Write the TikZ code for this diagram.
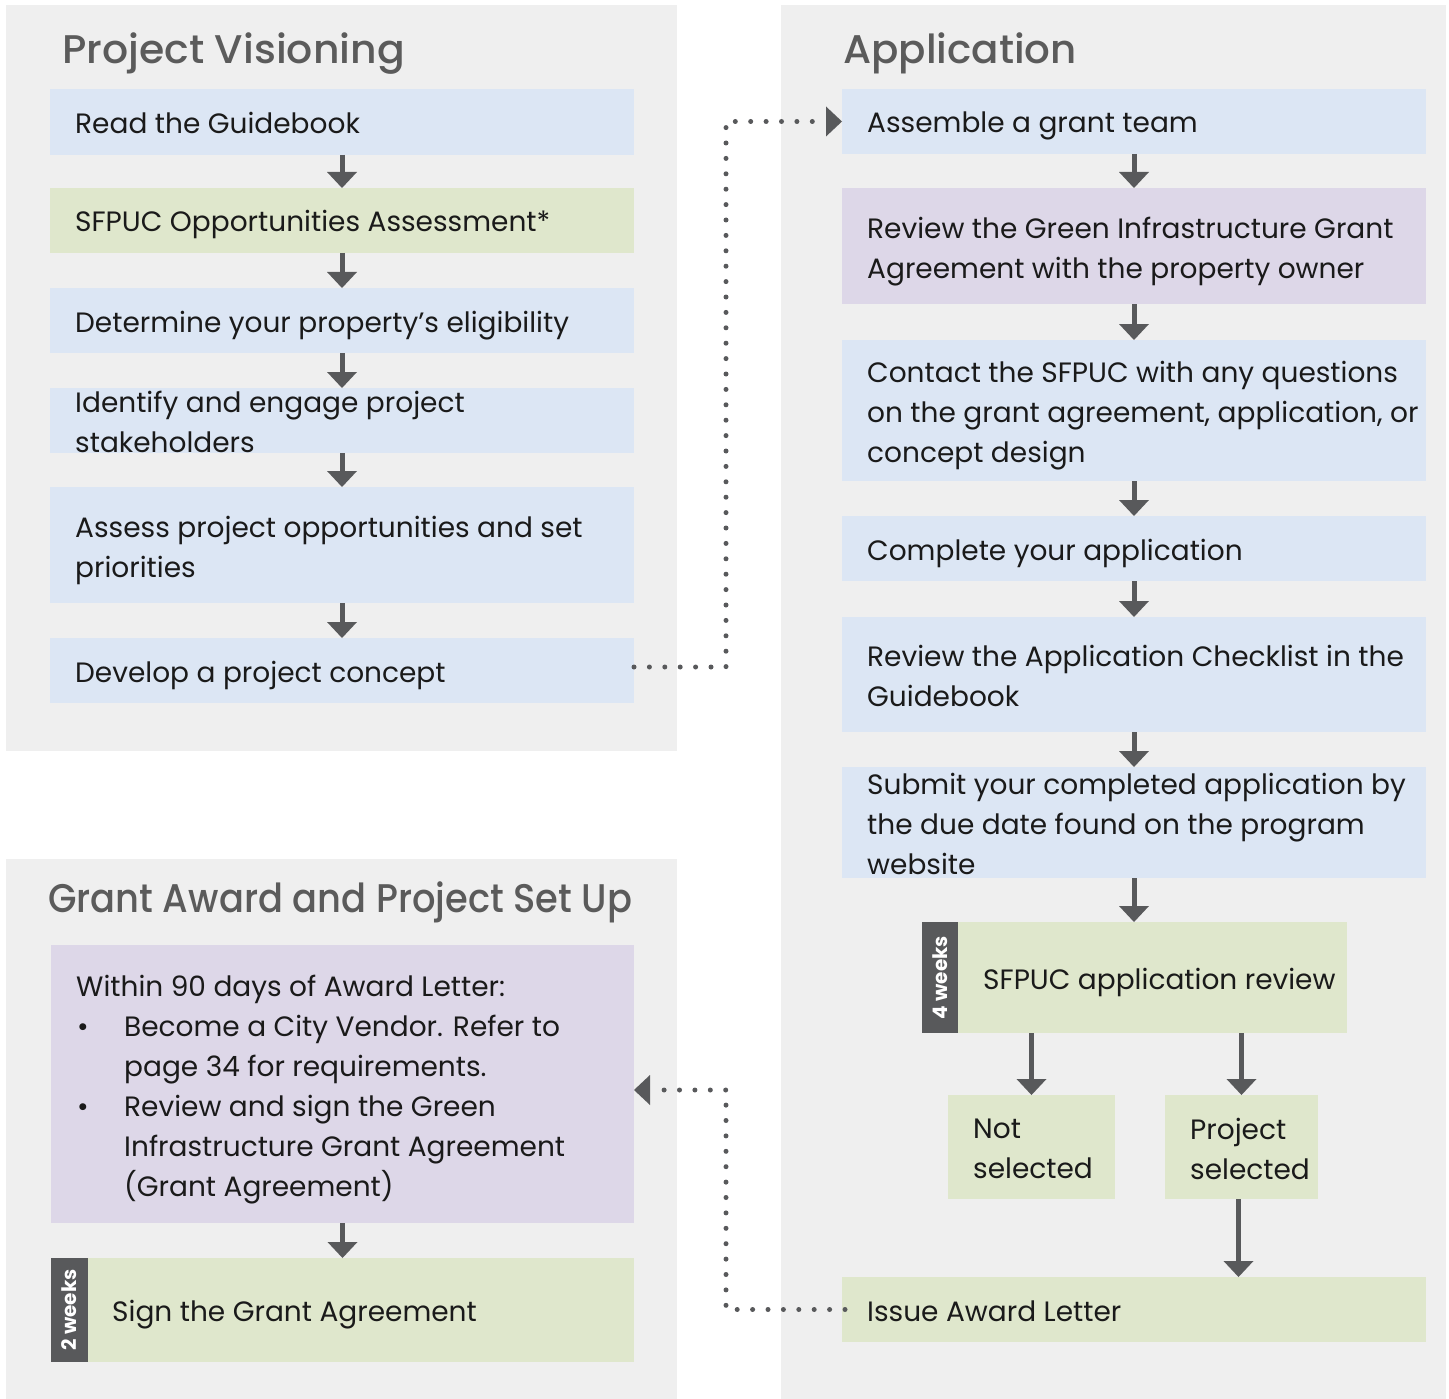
\documentclass[tikz,border=0pt]{standalone}
\usepackage{fontspec}
\setmainfont{Poppins}
\newfontfamily\titlefont{Poppins Medium}
\usetikzlibrary{arrows.meta}
\definecolor{panelgray}{HTML}{EFEFEF}
\definecolor{bluebox}{HTML}{DCE6F4}
\definecolor{greenbox}{HTML}{DFE7CC}
\definecolor{purplebox}{HTML}{DDD7E8}
\definecolor{darkgray}{HTML}{58595B}
\definecolor{titlegray}{HTML}{5B5B5B}
\definecolor{bodytext}{HTML}{1A1A1A}
\tikzset{
  panel/.style={fill=panelgray, draw=none},
  box/.style={rectangle, draw=none, inner sep=0pt, outer sep=0pt, anchor=north west},
  bluefill/.style={box, fill=bluebox},
  greenfill/.style={box, fill=greenbox},
  purplefill/.style={box, fill=purplebox},
  bandfill/.style={box, fill=darkgray},
  txt/.style={anchor=west, inner sep=0pt, align=left, text=bodytext, yshift=-3.5pt,
    font=\fontsize{28}{40}\selectfont,
    execute at begin node=\strut, execute at end node=\strut},
  txtm/.style={txt, yshift=-4pt},
  title/.style={anchor=base west, inner sep=0pt, text=titlegray,
    font=\titlefont\fontsize{40}{46}\selectfont},
  bandtxt/.style={rotate=90, inner sep=0pt, text=white,
    font=\bfseries\fontsize{20}{24}\selectfont},
  flow/.style={draw=darkgray, line width=5pt,
    -{Triangle[length=16pt,width=30pt,line width=0pt]}},
  dotline/.style={draw=darkgray, line width=5pt, line cap=round,
    dash pattern=on 0pt off 15.4pt,
    -{Triangle[length=16pt,width=30pt,line width=0pt]}},
}
\begin{document}
\begin{tikzpicture}[x=1pt,y=-1pt]
\useasboundingbox (0,0) rectangle (1449,1399);
\fill[white] (0,0) rectangle (1449,1399);
% panels
\path[panel] (6,5) rectangle (677,751);
\path[panel] (781,5) rectangle (1446,1399);
\path[panel] (6,859) rectangle (677,1399);
% titles
\node[title] (t1) at (62,63.5) {\scalebox{1.024}[1]{Project Visioning}};
\node[title] (t2) at (843,63.5) {\scalebox{1.01}[1]{Application}};
\node[title] (t3) at (48,912.5) {\scalebox{0.921}[1]{Grant Award and Project Set Up}};
% left column
\node[bluefill, minimum width=584pt, minimum height=66pt] (lb1) at (50,89) {};
\node[greenfill, minimum width=584pt, minimum height=65pt] (lb2) at (50,188) {};
\node[bluefill, minimum width=584pt, minimum height=65pt] (lb3) at (50,288) {};
\node[bluefill, minimum width=584pt, minimum height=65pt] (lb4) at (50,388) {};
\node[bluefill, minimum width=584pt, minimum height=116pt] (lb5) at (50,487) {};
\node[bluefill, minimum width=584pt, minimum height=65pt] (lb6) at (50,638) {};
\node[txt] (lt1) at ([xshift=25pt]lb1.west) {Read the Guidebook};
\node[txt] (lt2) at ([xshift=25pt]lb2.west) {SFPUC Opportunities Assessment*};
\node[txt] (lt3) at ([xshift=25pt]lb3.west) {Determine your property’s eligibility};
\node[txtm] (lt4) at ([xshift=25pt]lb4.west) {Identify and engage project\\stakeholders};
\node[txtm] (lt5) at ([xshift=25pt]lb5.west) {Assess project opportunities and set\\priorities};
\node[txt] (lt6) at ([xshift=25pt]lb6.west) {Develop a project concept};
\draw[flow] (lb1.south) -- (lb2.north);
\draw[flow] (lb2.south) -- (lb3.north);
\draw[flow] (lb3.south) -- (lb4.north);
\draw[flow] (lb4.south) -- (lb5.north);
\draw[flow] (lb5.south) -- (lb6.north);
% right column
\node[bluefill, minimum width=584pt, minimum height=65pt] (rb1) at (842,89) {};
\node[purplefill, minimum width=584pt, minimum height=116pt] (rb2) at (842,188) {};
\node[bluefill, minimum width=584pt, minimum height=141pt] (rb3) at (842,340) {};
\node[bluefill, minimum width=584pt, minimum height=65pt] (rb4) at (842,516) {};
\node[bluefill, minimum width=584pt, minimum height=115pt] (rb5) at (842,617) {};
\node[bluefill, minimum width=584pt, minimum height=111pt] (rb6) at (842,767) {};
\node[greenfill, minimum width=425pt, minimum height=111pt] (rb7) at (922,922) {};
\node[bandfill, minimum width=36pt, minimum height=111pt] (band4) at (922,922) {};
\node[greenfill, minimum width=167pt, minimum height=104pt] (ns) at (948,1095) {};
\node[greenfill, minimum width=153pt, minimum height=104pt] (ps) at (1165,1095) {};
\node[greenfill, minimum width=584pt, minimum height=65pt] (ia) at (842,1277) {};
\node[txt] (rt1) at ([xshift=25pt]rb1.west) {Assemble a grant team};
\node[txtm] (rt2) at ([xshift=25pt]rb2.west) {Review the Green Infrastructure Grant\\Agreement with the property owner};
\node[txtm] (rt3) at ([xshift=25pt]rb3.west) {Contact the SFPUC with any questions\\on the grant agreement, application, or\\concept design};
\node[txt] (rt4) at ([xshift=25pt]rb4.west) {Complete your application};
\node[txtm] (rt5) at ([xshift=25pt]rb5.west) {Review the Application Checklist in the\\Guidebook};
\node[txtm] (rt6) at ([xshift=25pt]rb6.west) {Submit your completed application by\\the due date found on the program\\website};
\node[txt] (rt7) at ([xshift=61pt]rb7.west) {SFPUC application review};
\node[bandtxt] (bt4) at (band4.center) {4 weeks};
\node[txtm] (nst) at ([xshift=25pt]ns.west) {Not\\selected};
\node[txtm] (pst) at ([xshift=25pt]ps.west) {Project\\selected};
\node[txt] (iat) at ([xshift=25pt]ia.west) {Issue Award Letter};
\draw[flow] (rb1.south) -- (rb2.north);
\draw[flow] (rb2.south) -- (rb3.north);
\draw[flow] (rb3.south) -- (rb4.north);
\draw[flow] (rb4.south) -- (rb5.north);
\draw[flow] (rb5.south) -- (rb6.north);
\draw[flow] (rb6.south) -- (rb6.south |- rb7.north);
\draw[flow] (ns.north |- rb7.south) -- (ns.north);
\draw[flow] (ps.north |- rb7.south) -- (ps.north);
\draw[flow] ([xshift=-3pt]ps.south) -- ([xshift=-3pt]ps.south |- ia.north);
% bottom left
\node[purplefill, minimum width=583pt, minimum height=278pt] (w90) at (51,945) {};
\node[greenfill, minimum width=583pt, minimum height=104pt] (sg) at (51,1258) {};
\node[bandfill, minimum width=37pt, minimum height=104pt] (band2) at (51,1258) {};
\node[txtm] (w90t) at ([xshift=25pt]w90.west) {Within 90 days of Award Letter:\\
\hspace*{1pt}\makebox[47pt][l]{•}Become a City Vendor. Refer to\\
\hspace*{48pt}page 34 for requirements.\\
\hspace*{1pt}\makebox[47pt][l]{•}Review and sign the Green\\
\hspace*{48pt}Infrastructure Grant Agreement\\
\hspace*{48pt}(Grant Agreement)};
\node[txt] (sgt) at ([xshift=61pt]sg.west) {Sign the Grant Agreement};
\node[bandtxt] (bt2) at (band2.center) {2 weeks};
\draw[flow] (w90.south) -- (sg.north);
% dotted connectors
\coordinate (c1) at (726,121.5);
\coordinate (c2) at (726,1090);
\draw[dotline] ([yshift=3.5pt]lb6.east) -| (c1) -- (rb1.west);
\draw[dotline] ([xshift=3pt]ia.west) -| (c2) -- (c2 -| w90.east);
\end{tikzpicture}
\end{document}
